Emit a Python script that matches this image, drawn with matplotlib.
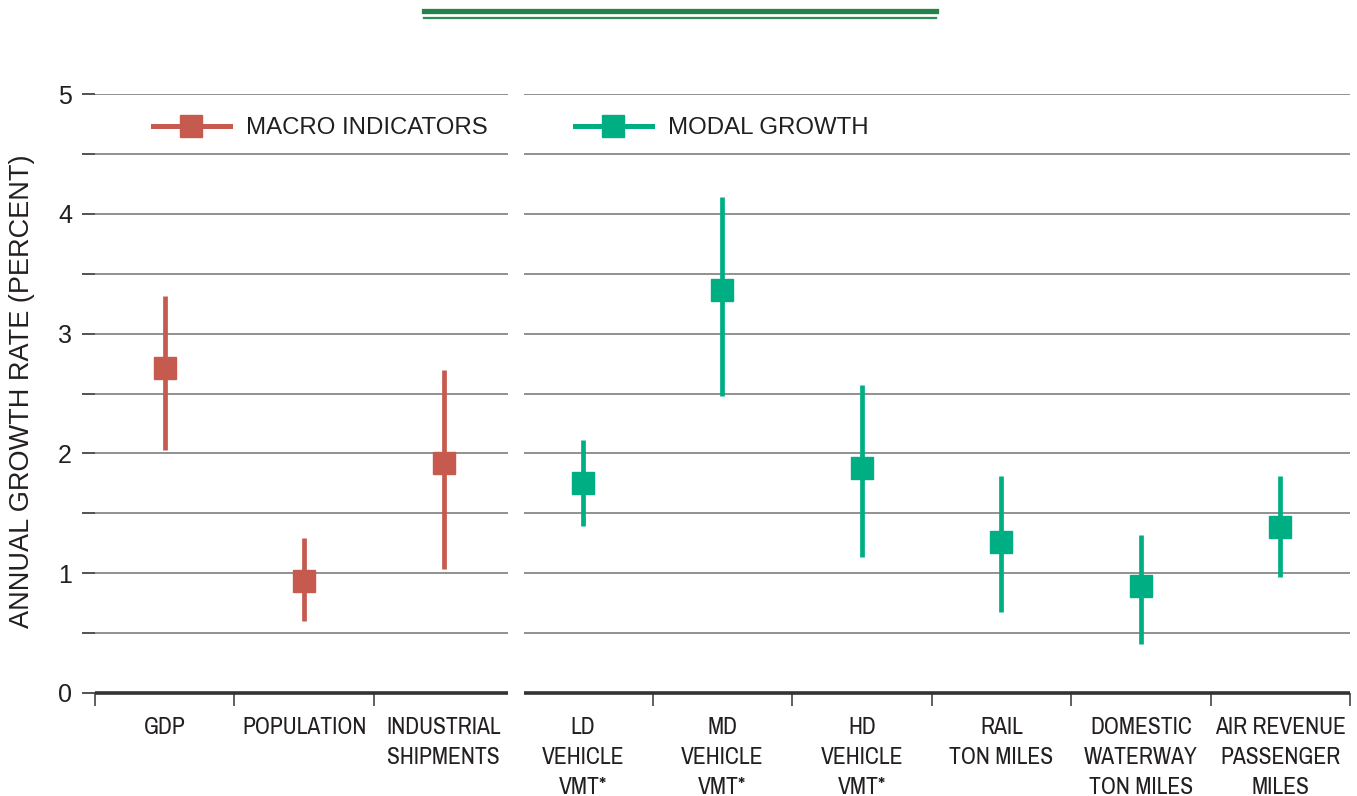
import numpy as np
import matplotlib
matplotlib.use("Agg")
import matplotlib.pyplot as plt
from matplotlib.lines import Line2D
from matplotlib import font_manager

# values (percent per year)
macro_labels = ["GDP", "POPULATION", "INDUSTRIAL\nSHIPMENTS"]
macro_mid = [2.71, 0.935, 1.92]
macro_low = [2.03, 0.60, 1.035]
macro_high = [3.31, 1.29, 2.70]

modal_labels = ["LD\nVEHICLE\nVMT*", "MD\nVEHICLE\nVMT*", "HD\nVEHICLE\nVMT*",
                "RAIL\nTON MILES", "DOMESTIC\nWATERWAY\nTON MILES",
                "AIR REVENUE\nPASSENGER\nMILES"]
modal_mid = [1.75, 3.36, 1.88, 1.26, 0.89, 1.385]
modal_low = [1.39, 2.48, 1.135, 0.675, 0.41, 0.97]
modal_high = [2.11, 4.14, 2.57, 1.81, 1.32, 1.81]

red = "#C65A4E"
green = "#00AE84"
txt = "#231F20"
plt.rcParams["font.family"] = ["Liberation Sans", "DejaVu Sans"]

# category labels are set in a condensed face in the original; use one if there is any
cond = None
for f in font_manager.fontManager.ttflist:
    if ("Narrow" in f.name or "Condensed" in f.name) and f.style == "normal":
        cond = f.name
        break
if cond:
    cat_font = dict(family=[cond, "Liberation Sans"], fontsize=17, linespacing=1.55)
else:
    cat_font = dict(family=["Liberation Sans"], fontsize=14.5, linespacing=1.63)

fig = plt.figure(figsize=(13.57, 7.96), dpi=100)
ax = fig.add_axes([95/1357, 103/796, 1255/1357, 599/796])
ax.set_xlim(0, 9)
ax.set_ylim(0, 5)
for s in ax.spines.values():
    s.set_visible(False)

# gridlines in two panels with a gap between them
gap_l, gap_r = 2.962, 3.077
for yv in np.arange(0.5, 5.01, 0.5):
    ax.hlines(yv, 0, gap_l, color="#888888", lw=1.3, zorder=1)
    ax.hlines(yv, gap_r, 9, color="#888888", lw=1.3, zorder=1)
ax.hlines(0, 0, gap_l, color="#333333", lw=2.6, zorder=2, clip_on=False)
ax.hlines(0, gap_r, 9, color="#333333", lw=2.6, zorder=2, clip_on=False)

xm = np.arange(len(macro_mid)) + 0.5
xd = np.arange(len(modal_mid)) + 3.5
mm = np.array(macro_mid)
dm = np.array(modal_mid)
ax.errorbar(xm, mm, yerr=[mm - np.array(macro_low), np.array(macro_high) - mm],
            fmt="s", ms=16.5, color=red, ecolor=red, elinewidth=3.4, capsize=0, zorder=3)
ax.errorbar(xd, dm, yerr=[dm - np.array(modal_low), np.array(modal_high) - dm],
            fmt="s", ms=16.5, color=green, ecolor=green, elinewidth=3.4, capsize=0, zorder=3)

# y axis
ax.set_yticks(range(6))
ax.set_yticks(np.arange(0.5, 5, 1.0), minor=True)
ax.tick_params(axis="y", which="both", length=9.5, width=1.3, color="#444444",
               pad=7, labelsize=18, labelcolor=txt)

# x axis: ticks at category edges, labels at centres
ax.set_xticks([0, 1, 2, 4, 5, 6, 7, 8, 9])
ax.set_xticklabels([])
ax.set_xticks(np.concatenate([xm, xd]), minor=True)
ax.set_xticklabels(macro_labels + modal_labels, minor=True, color=txt, va="top", **cat_font)
ax.tick_params(axis="x", which="major", length=9, width=1.2, color="#444444", direction="out")
ax.tick_params(axis="x", which="minor", length=0, pad=17)

fig.text(22/1357, 0.508, "ANNUAL GROWTH RATE (PERCENT)", rotation=90,
         ha="center", va="center", fontsize=19.5, color=txt)

handles = [Line2D([], [], color=red, lw=3.6, marker="s", ms=16.5),
           Line2D([], [], color=green, lw=3.6, marker="s", ms=16.5)]
ax.legend(handles, ["MACRO INDICATORS", "MODAL GROWTH"], ncol=2, frameon=False,
          loc="center left", bbox_to_anchor=(0.046, 0.9433), borderaxespad=0,
          borderpad=0, handlelength=3.2, handletextpad=0.7, columnspacing=3.6,
          prop={"size": 17.3}, labelcolor=txt)

# decorative double rule at the top
fig.add_artist(Line2D([424/1357, 936/1357], [1 - 11/796] * 2, lw=3.8, color="#23834A"))
fig.add_artist(Line2D([424/1357, 936/1357], [1 - 18/796] * 2, lw=1.6, color="#2F8F55"))

fig.savefig("out.png", dpi=100)
